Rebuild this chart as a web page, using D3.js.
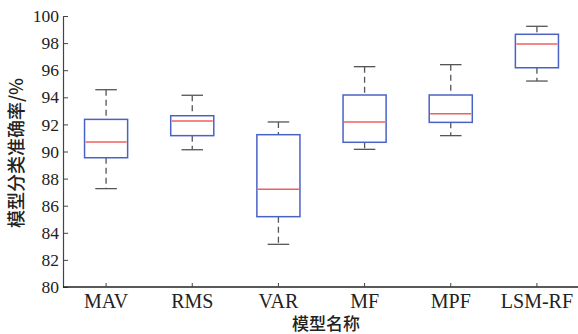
<!DOCTYPE html>
<html><head><meta charset="utf-8">
<script src="https://cdn.jsdelivr.net/npm/d3@7"></script>
<style>body{margin:0;background:#fff}svg{display:block}</style>
</head><body><svg id="c" width="578" height="334"></svg>
<script>
const categories = ["MAV","RMS","VAR","MF","MPF","LSM-RF"];
const whiskerLow  = [87.26, 90.13, 83.15, 90.16, 91.17, 95.20];
const q1          = [89.54, 91.17, 85.19, 90.68, 92.15, 96.18];
const median      = [90.70, 92.25, 87.21, 92.18, 92.79, 97.93];
const q3          = [92.37, 92.64, 91.24, 94.17, 94.17, 98.65];
const whiskerHigh = [94.56, 94.15, 92.18, 96.26, 96.41, 99.24];
const yTicks = [80,82,84,86,88,90,92,94,96,98,100];
const yLabel = "模型分类准确率/%";
const xLabel = "模型名称";

(function(){
const svg = d3.select("#c");
const mLeft = 63, mRight = 580, mTop = 16, mBottom = 287;
const x = d3.scaleBand().domain(categories).range([mLeft, mRight]).paddingInner(0).paddingOuter(0);
const y = d3.scaleLinear().domain([80, 100]).range([mBottom, mTop]);
const bw = x.bandwidth() * 0.5;
const cw = x.bandwidth() * 0.25;

const data = categories.map((c,i)=>({c, lo:whiskerLow[i], q1:q1[i], med:median[i], q3:q3[i], hi:whiskerHigh[i]}));

const g = svg.append("g");
const boxes = g.selectAll("g.b").data(data).join("g").attr("class","b")
  .attr("transform", d=>`translate(${x(d.c)+x.bandwidth()/2},0)`);
boxes.append("line").attr("x1",0).attr("x2",0).attr("y1",d=>y(d.hi)).attr("y2",d=>y(d.q3))
  .attr("stroke","#555").attr("stroke-width",1.3).attr("stroke-dasharray","6,4");
boxes.append("line").attr("x1",0).attr("x2",0).attr("y1",d=>y(d.q1)).attr("y2",d=>y(d.lo))
  .attr("stroke","#555").attr("stroke-width",1.3).attr("stroke-dasharray","6,4");
boxes.append("line").attr("x1",-cw/2).attr("x2",cw/2).attr("y1",d=>y(d.hi)).attr("y2",d=>y(d.hi))
  .attr("stroke","#555").attr("stroke-width",1.3);
boxes.append("line").attr("x1",-cw/2).attr("x2",cw/2).attr("y1",d=>y(d.lo)).attr("y2",d=>y(d.lo))
  .attr("stroke","#555").attr("stroke-width",1.3);
boxes.append("rect").attr("x",-bw/2).attr("width",bw).attr("y",d=>y(d.q3)).attr("height",d=>y(d.q1)-y(d.q3))
  .attr("fill","#fff").attr("stroke","#4a62c4").attr("stroke-width",1.5);
boxes.append("line").attr("x1",-bw/2+1).attr("x2",bw/2-1).attr("y1",d=>y(d.med)).attr("y2",d=>y(d.med))
  .attr("stroke","#f0605f").attr("stroke-width",1.5);

const yAxis = d3.axisLeft(y).tickValues(yTicks).tickSizeInner(-5).tickSizeOuter(0).tickPadding(4);
const ya = svg.append("g").attr("transform",`translate(${mLeft},0)`).call(yAxis);
ya.select(".domain").attr("stroke","#444").attr("stroke-width",1.2);
ya.selectAll(".tick line").attr("stroke","#444");
ya.selectAll(".tick text").attr("font-family","Liberation Serif, Times New Roman, serif").attr("font-size",17.5).attr("fill","#222").attr("x",-4);

const xAxis = d3.axisBottom(x).tickSizeInner(-4).tickSizeOuter(0).tickPadding(7);
const xa = svg.append("g").attr("transform",`translate(0,${mBottom})`).call(xAxis);
xa.select(".domain").attr("stroke","#222").attr("stroke-width",1.4).attr("d",`M${mLeft},0H578`);
xa.selectAll(".tick line").attr("stroke","#444");
xa.selectAll(".tick text").attr("font-family","Liberation Serif, Times New Roman, serif").attr("font-size",20).attr("fill","#222");

svg.append("text").attr("x",326).attr("y",330).attr("text-anchor","middle")
  .attr("font-family","Noto Sans CJK SC").attr("font-size",17).attr("font-weight",500).attr("fill","#222").text(xLabel);
svg.append("text").attr("transform","translate(23,153) rotate(-90)").attr("text-anchor","middle")
  .attr("font-family","Noto Sans CJK SC").attr("font-size",18).attr("font-weight",500).attr("fill","#222").text(yLabel);
})();
</script></body></html>
